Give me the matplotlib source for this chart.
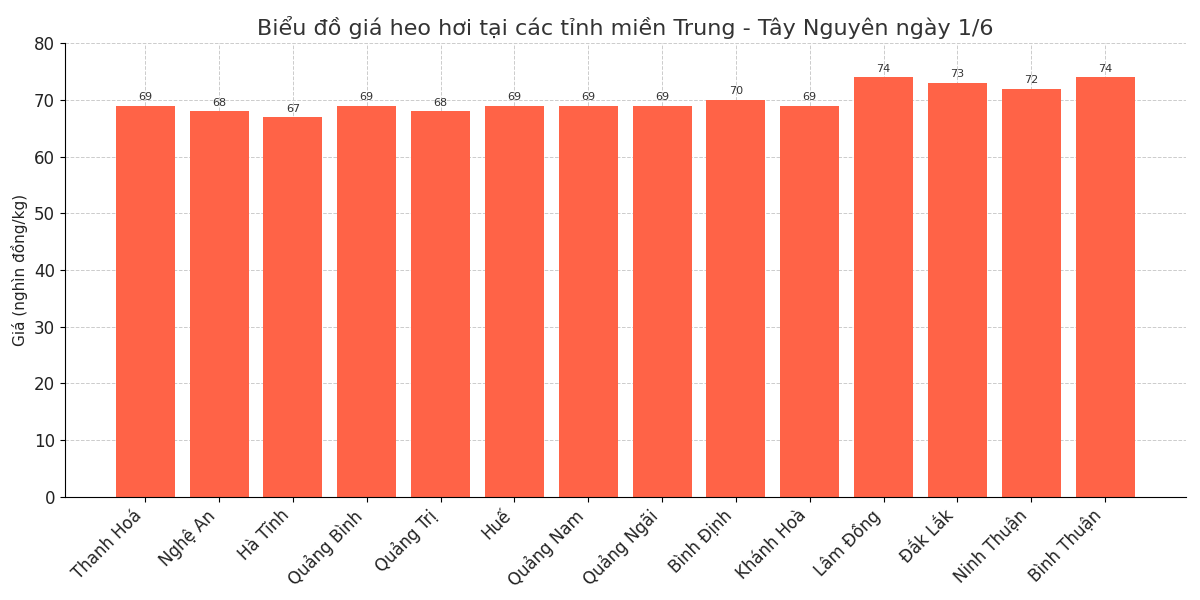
import matplotlib
matplotlib.use("Agg")
import matplotlib.pyplot as plt
import numpy as np

tinh = ["Thanh Hoá", "Nghệ An", "Hà Tĩnh", "Quảng Bình", "Quảng Trị", "Huế",
        "Quảng Nam", "Quảng Ngãi", "Bình Định", "Khánh Hoà", "Lâm Đồng",
        "Đắk Lắk", "Ninh Thuận", "Bình Thuận"]
gia = [69, 68, 67, 69, 68, 69, 69, 69, 70, 69, 74, 73, 72, 74]

plt.rcParams["font.family"] = ["DejaVu Sans"]
plt.rcParams["text.color"] = "#333333"

fig, ax = plt.subplots(figsize=(12, 6), dpi=100)
x = np.arange(len(tinh))
bars = ax.bar(x, gia, width=0.8, color="#FF6347", zorder=2)

for b, v in zip(bars, gia):
    ax.text(b.get_x() + b.get_width() / 2, v + 0.6, f"{v}",
            ha="center", va="bottom", fontsize=8, color="#333333")

ax.set_xticks(x)
ax.set_xticklabels(tinh, rotation=45, ha="right", fontsize=12, color="#222222")
ax.tick_params(axis="y", labelsize=12, labelcolor="#222222")
ax.set_ylim(0, 80)
ax.set_xlim(-1.09, 14.09)
ax.set_ylabel("Giá (nghìn đồng/kg)", fontsize=11, color="#222222")
ax.set_title("Biểu đồ giá heo hơi tại các tỉnh miền Trung - Tây Nguyên ngày 1/6",
             fontsize=16, color="#333333")

ax.grid(True, linestyle="--", color="#cccccc", linewidth=0.7, zorder=0)
ax.set_axisbelow(True)
ax.spines["top"].set_visible(False)
ax.spines["right"].set_visible(False)

fig.subplots_adjust(left=0.054, right=0.988, top=0.928, bottom=0.172)
fig.savefig("out.png", dpi=100)
